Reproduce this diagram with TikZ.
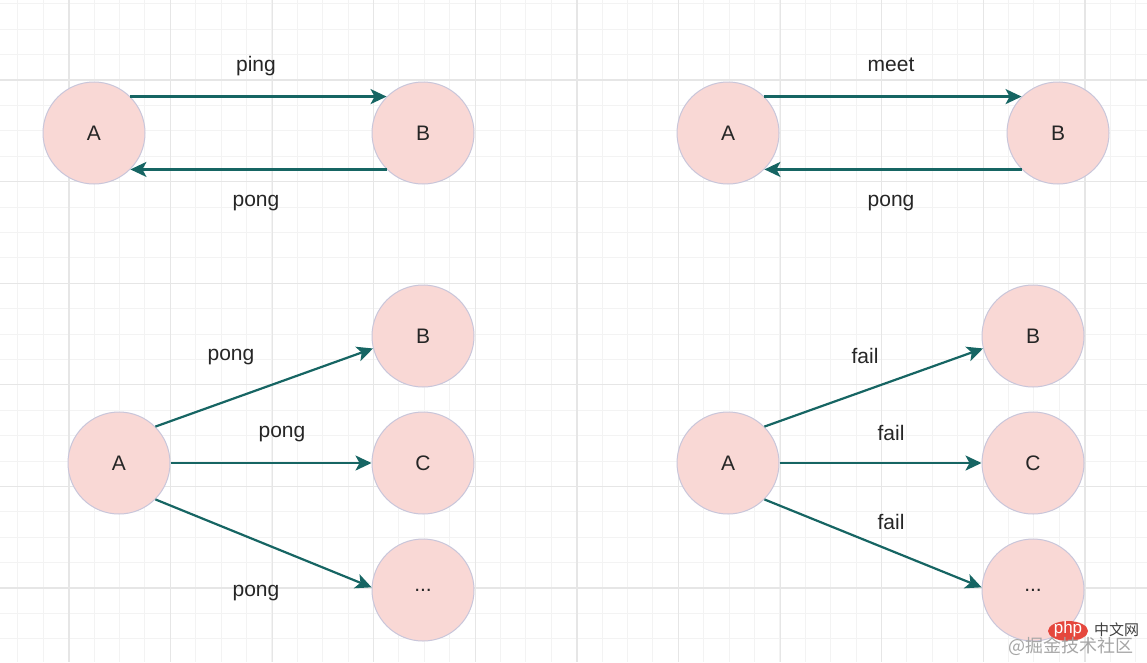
\documentclass[tikz,border=0pt]{standalone}
\usepackage{fontspec}
\setmainfont{Liberation Sans}
\newfontfamily\cjk{Noto Sans CJK SC}
\usetikzlibrary{arrows.meta,shapes.geometric}
\definecolor{nodefill}{HTML}{F9D8D5}
\definecolor{nodeline}{HTML}{C9C6DA}
\definecolor{teal}{HTML}{166563}
\definecolor{gmajor}{HTML}{E6E6E6}
\definecolor{gminor}{HTML}{F3F3F3}
\definecolor{phpred}{HTML}{E5473D}
\tikzset{
  circ/.style={circle, fill=nodefill, draw=nodeline, line width=1pt, minimum size=102pt, inner sep=0pt, font=\fontsize{21}{24}\selectfont, text=black!85},
  conn/.style={draw=teal, line width=2.2pt, -{Stealth[length=16pt,width=15pt,inset=4pt]}},
  lbl/.style={font=\fontsize{21}{24}\selectfont, text=black!85, inner sep=0pt}
}
\begin{document}
\begin{tikzpicture}[x=1pt,y=-1pt]
\useasboundingbox (0,0) rectangle (1147,662);
\fill[white] (0,0) rectangle (1147,662);
% minor grid
\foreach \i in {0,...,45} {
  \draw[gminor, line width=1pt] ({-7.6+25.4*\i},0) -- ({-7.6+25.4*\i},662);
}
\foreach \i in {0,...,26} {
  \draw[gminor, line width=1pt] (0,{3.8+25.4*\i}) -- (1147,{3.8+25.4*\i});
}
% major grid
\foreach \i in {0,...,11} {
  \draw[gmajor, line width=1.2pt] ({-32.6+101.6*\i},0) -- ({-32.6+101.6*\i},662);
}
\foreach \i in {0,...,6} {
  \draw[gmajor, line width=1.2pt] (0,{-21.6+101.6*\i}) -- (1147,{-21.6+101.6*\i});
}
% top-left
\node[circ] (a1) at (94,133) {A};
\node[circ] (b1) at (423,133) {B};
\draw[conn] (a1.north east) -- (b1.north west);
\draw[conn] (b1.south west) -- (a1.south east);
\node[lbl] (l1) at (256,66) {ping};
\node[lbl] (l2) at (256,203) {pong};
% top-right
\node[circ] (a2) at (728,133) {A};
\node[circ] (b2) at (1058,133) {B};
\draw[conn] (a2.north east) -- (b2.north west);
\draw[conn] (b2.south west) -- (a2.south east);
\node[lbl] (l3) at (891,65) {meet};
\node[lbl] (l4) at (891,203) {pong};
% bottom-left
\node[circ] (a3) at (119,463) {A};
\node[circ] (b3) at (423,336) {B};
\node[circ] (c3) at (423,463) {C};
\node[circ] (d3) at (423,590) {...};
\draw[conn] (a3.north east) -- (b3.194);
\draw[conn] (a3.east) -- (c3.west);
\draw[conn] (a3.south east) -- (d3.177);
\node[lbl] (l5) at (231,357) {pong};
\node[lbl] (l6) at (282,434) {pong};
\node[lbl] (l7) at (256,593) {pong};
% bottom-right
\node[circ] (a4) at (728,463) {A};
\node[circ] (b4) at (1033,336) {B};
\node[circ] (c4) at (1033,463) {C};
\node[circ] (d4) at (1033,590) {...};
\draw[conn] (a4.north east) -- (b4.194);
\draw[conn] (a4.east) -- (c4.west);
\draw[conn] (a4.south east) -- (d4.177);
\node[lbl] (l8) at (865,356) {fail};
\node[lbl] (l9) at (891,433) {fail};
\node[lbl] (l10) at (891,522) {fail};
% watermark
\node[ellipse, fill=phpred, inner sep=0pt, minimum width=40pt, minimum height=20pt] (wm1) at (1068,631) {};
\node[text=white, font=\fontsize{17}{17}\selectfont, inner sep=0pt] (wm2) at (1068,629) {php};
\node[text=black!75, font=\cjk\fontsize{15}{15}\selectfont, inner sep=0pt, anchor=west] (wm3) at (1094,630) {中文网};
\node[text=black!35, font=\cjk\fontsize{18}{18}\selectfont, inner sep=0pt, anchor=west] (wm4) at (1008,646) {@掘金技术社区};
\end{tikzpicture}
\end{document}
